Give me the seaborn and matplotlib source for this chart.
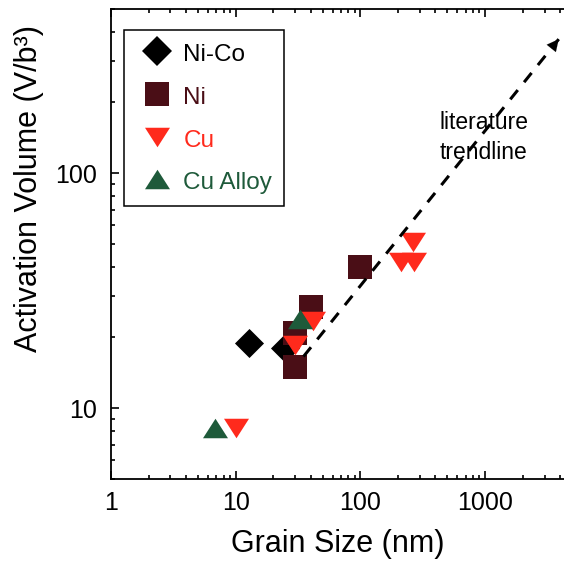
import numpy as np
import pandas as pd
import matplotlib
matplotlib.use("Agg")
import matplotlib.pyplot as plt
from matplotlib.lines import Line2D
from matplotlib.ticker import FixedLocator, FixedFormatter, LogLocator, NullFormatter
import seaborn as sns

# Grain size (nm) and activation volume (V/b^3) for each material
nico_grain = [12.8, 25]
nico_volume = [18.9, 18.0]
ni_grain = [100, 40, 30, 30]
ni_volume = [40, 27, 21, 15]
cu_grain = [10, 30, 42, 210, 270, 265]
cu_volume = [8.2, 18.5, 23.5, 42, 42, 51]
cualloy_grain = [6.8, 33]
cualloy_volume = [8.2, 24]

materials = ["Ni-Co", "Ni", "Cu", "Cu Alloy"]

# Literature trendline (start and end points)
trend_grain = [35, 3900]
trend_volume = [16.6, 372]
trend_label = "literature\ntrendline"

x_ticks = [1, 10, 100, 1000]
x_tick_labels = ["1", "10", "100", "1000"]
y_ticks = [10, 100]
y_tick_labels = ["10", "100"]

df = pd.concat([
    pd.DataFrame({"grain": nico_grain, "volume": nico_volume, "material": "Ni-Co"}),
    pd.DataFrame({"grain": ni_grain, "volume": ni_volume, "material": "Ni"}),
    pd.DataFrame({"grain": cu_grain, "volume": cu_volume, "material": "Cu"}),
    pd.DataFrame({"grain": cualloy_grain, "volume": cualloy_volume, "material": "Cu Alloy"}),
], ignore_index=True)

# flattened triangles
tri_down = [(-1, 0.78), (1, 0.78), (0, -0.78), (-1, 0.78)]
tri_up = [(-1, -0.78), (1, -0.78), (0, 0.78), (-1, -0.78)]

colors = {"Ni-Co": "#000000", "Ni": "#4a0e16", "Cu": "#ff2a1c", "Cu Alloy": "#1e5a3a"}
markers = {"Ni-Co": "D", "Ni": "s", "Cu": tri_down, "Cu Alloy": tri_up}
msize = {"Ni-Co": 14.8, "Ni": 17.3, "Cu": 18.0, "Cu Alloy": 18.0}

sns.set_theme(style="ticks", rc={
    "axes.edgecolor": "black", "xtick.color": "black", "ytick.color": "black",
    "text.color": "black", "axes.labelcolor": "black",
})
plt.rcParams["font.family"] = ["Liberation Sans", "DejaVu Sans"]

fig = plt.figure(figsize=(5.64, 5.61), dpi=100)
ax = fig.add_axes([0.1968, 0.1462, 0.8032, 0.8378])

for i, name in enumerate(materials):
    sub = df[df["material"] == name]
    sns.scatterplot(data=sub, x="grain", y="volume", marker=markers[name],
                    s=msize[name] ** 2, color=colors[name], linewidth=0,
                    ax=ax, legend=False, zorder=2 + i * 0.1)

ax.set_xscale("log")
ax.set_yscale("log")
ax.set_xlim(1, 4300)
ax.set_ylim(5, 500)

ax.xaxis.set_major_locator(FixedLocator(x_ticks))
ax.xaxis.set_major_formatter(FixedFormatter(x_tick_labels))
ax.yaxis.set_major_locator(FixedLocator(y_ticks))
ax.yaxis.set_major_formatter(FixedFormatter(y_tick_labels))
ax.xaxis.set_minor_locator(LogLocator(base=10, subs=np.arange(2, 10)))
ax.yaxis.set_minor_locator(LogLocator(base=10, subs=np.arange(2, 10)))
ax.xaxis.set_minor_formatter(NullFormatter())
ax.yaxis.set_minor_formatter(NullFormatter())

ax.tick_params(which="both", direction="in", top=True, bottom=True,
               left=True, right=False, width=1.2, labelsize=18)
ax.tick_params(which="major", length=6)
ax.tick_params(which="minor", length=3)
ax.tick_params(axis="x", pad=8.5)
ax.tick_params(axis="y", pad=10)

ax.spines["right"].set_visible(False)
for s in ("left", "top", "bottom"):
    ax.spines[s].set_linewidth(1.3)

# dashed literature trendline with arrowhead
ax.plot(trend_grain, trend_volume, color="black", lw=2.2,
        ls=(0, (3.9, 3.3)), zorder=5)
slope = np.log(trend_volume[1] / trend_volume[0]) / np.log(trend_grain[1] / trend_grain[0])
tail = (trend_grain[1] / 1.15, trend_volume[1] / 1.15 ** slope)
ax.annotate("", xy=(trend_grain[1], trend_volume[1]), xytext=tail,
            arrowprops=dict(arrowstyle="-|>,head_length=0.6,head_width=0.3",
                            color="black", lw=0.1, mutation_scale=14,
                            shrinkA=0, shrinkB=0), zorder=6)
ax.text(980, 142, trend_label, ha="center", va="center", fontsize=16.5,
        linespacing=1.4, zorder=6)

ax.set_xlabel("Grain Size (nm)", fontsize=22)
ax.set_ylabel("Activation Volume (V/b³)", fontsize=22)
ax.xaxis.set_label_coords(0.5, -0.106)
ax.yaxis.set_label_coords(-0.148, 0.619)

handles = [Line2D([], [], ls="none", marker=markers[m], markersize=msize[m],
                  color=colors[m], markeredgewidth=0) for m in materials]
leg = ax.legend(handles, materials, loc="upper left",
                bbox_to_anchor=(0.0286, 0.955), borderaxespad=0,
                frameon=True, fancybox=False, edgecolor="black", framealpha=1,
                fontsize=17.5, borderpad=0.47, labelspacing=0.74,
                handlelength=1.81, handleheight=1.07, handletextpad=0.17,
                labelcolor=[colors[m] for m in materials])
leg.get_frame().set_linewidth(1.1)

fig.savefig("out.png", dpi=100)
